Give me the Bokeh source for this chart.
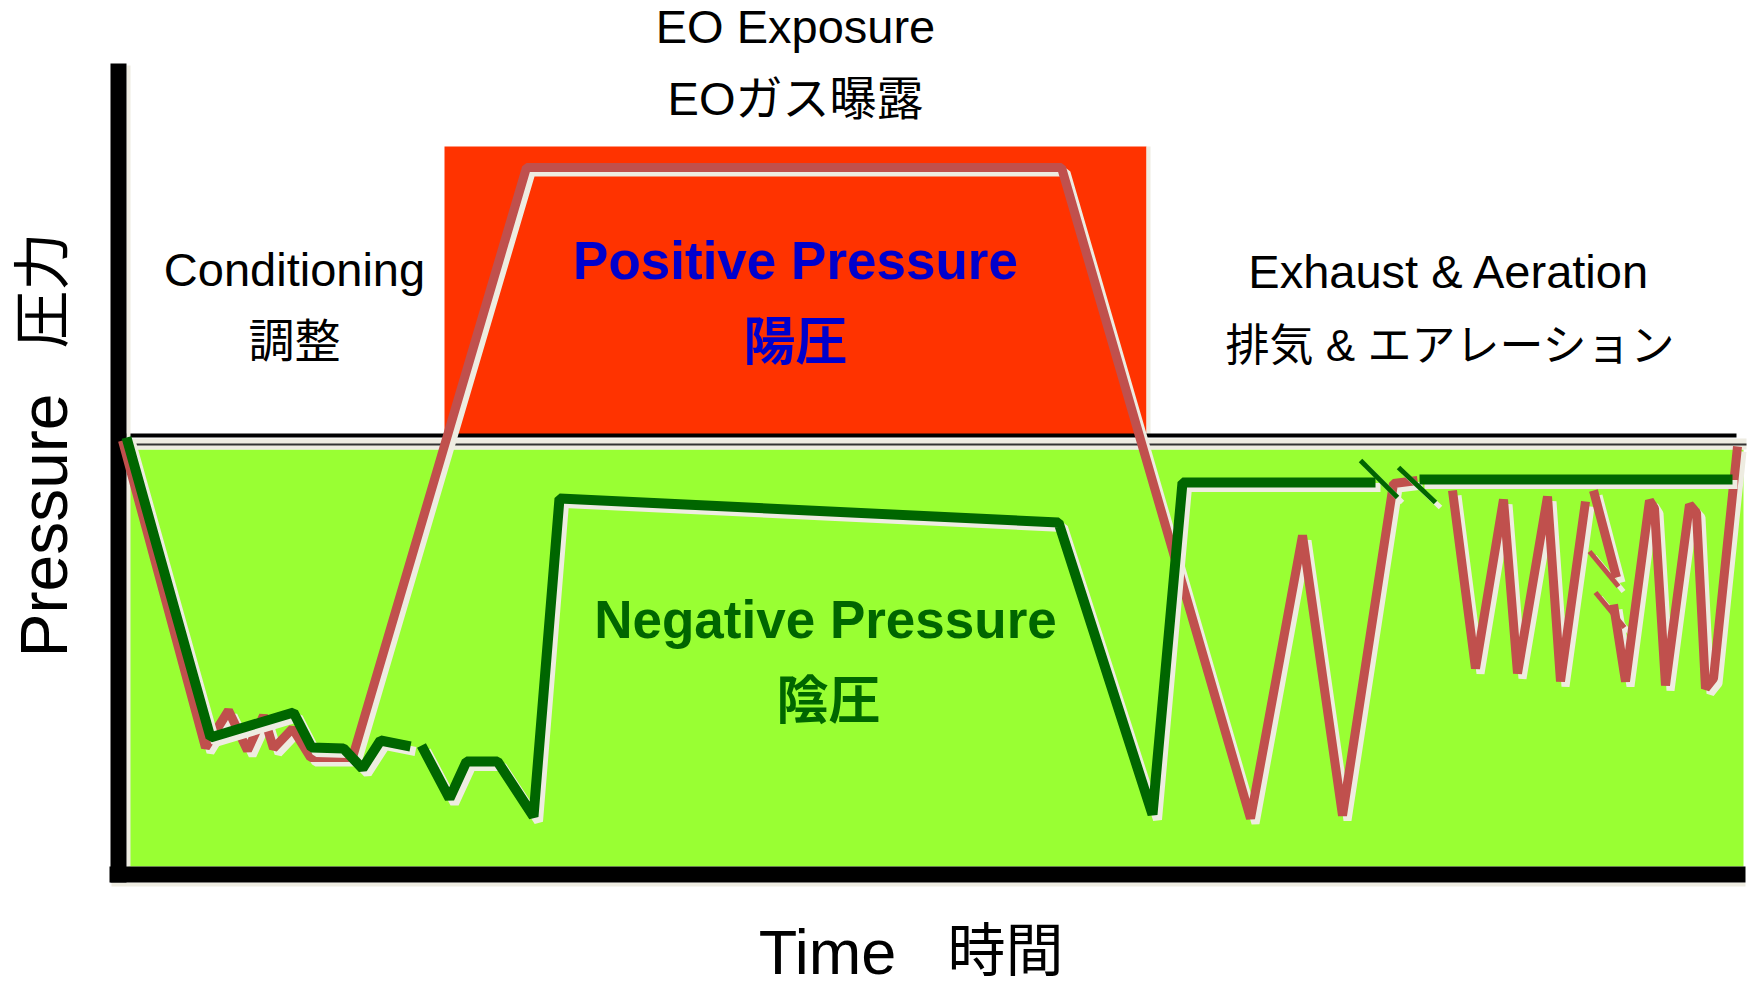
import math
from bokeh.plotting import figure
from bokeh.models import Range1d
from bokeh.core.properties import value
from bokeh.embed import file_html
from bokeh.resources import INLINE

nan = float("nan")

# ---- data (time: arbitrary units, pressure: arbitrary units, 0 = atmospheric) ----
# green curve
green_time = [126, 210, 293, 311, 343, 362, 380, 410, nan, 421, 449, 466, 497, 533, 559,
              1058, 1152, 1182, 1375, nan, 1419, 1732]
green_pressure = [-2, -302, -277, -312, -313, -333, -305, -311, nan, -310, -363, -326, -326, -381, -63,
                  -87, -379, -47, -47, nan, -44, -44]

# red curve
red_time = [122, 205, 228, 247, 263, 273, 292, 310, 352, 526, 1061, 1250, 1302, 1342, 1393, 1417, nan,
            1452, 1475, 1503, 1517, 1547, 1560, 1585, nan, 1593, 1616, nan,
            1613, 1625, 1649, 1654, 1665, 1689, 1696, 1705, 1713, 1737]
red_pressure = [-5, -312, -275, -315, -280, -313, -293, -322, -322, 268, 268, -383, -100, -380, -48, -45, nan,
                -55, -233, -64, -238, -61, -246, -66, nan, -55, -142, nan,
                -169, -246, -65, -73, -250, -69, -77, -253, -243, -11]

# break marks
green_break_t = [[1360, 1397], [1398, 1435]]
green_break_p = [[-25, -62], [-32, -67]]
red_break_t = [[1589, 1618], [1595, 1624]]
red_break_p = [[-116, -151], [-157, -192]]

# zones
zone_names = ["Positive Pressure", "Negative Pressure"]
zone_t0 = [444, 128]
zone_t1 = [1146, 1743]
zone_p_top = [289, -14]
zone_p_bottom = [0, -431]
zone_colors = ["#ff3300", "#99ff33"]

# phase labels
phase_text = ["EO Exposure", "EOガス曝露", "Conditioning", "調整", "Exhaust & Aeration", "排気 & エアレーション"]
phase_t = [795, 795, 294, 294, 1449, 1450]
phase_p = [409, 337, 166, 95, 164, 90]
phase_size = ["47px", "47px", "47px", "46px", "47px", "44px"]

zone_text = ["Positive Pressure", "陽圧", "Negative Pressure", "陰圧"]
zone_text_t = [795, 795, 825, 828]
zone_text_p = [175, 94, -184, -265]
zone_text_size = ["53px", "52px", "53px", "52px"]
zone_text_color = ["#0000cc", "#0000cc", "#006600", "#006600"]

axis_x_text = ["Time", "時間"]
axis_x_t = [827, 1005]
axis_x_p = [-516, -515]
axis_x_size = ["63px", "58px"]

axis_y_text = ["Pressure", "圧力"]
axis_y_t = [43, 42]
axis_y_p = [-90, 145]
axis_y_size = ["66px", "58px"]

FONT = value("Liberation Sans, Noto Sans CJK JP")
SHADOW = "#eeece1"
DX, DP = 5, -5

p = figure(width=1748, height=989, output_backend="svg", toolbar_location=None,
           x_range=Range1d(0, 1748), y_range=Range1d(-554, 435),
           x_axis_type=None, y_axis_type=None, min_border=0)
p.grid.visible = False
p.outline_line_color = None
p.background_fill_color = "white"
p.border_fill_color = "white"

# zones
p.quad(left=zone_t0, right=zone_t1, top=zone_p_top, bottom=zone_p_bottom,
       fill_color=zone_colors, line_color=None)
# shadow at right of positive zone
p.quad(left=[1146], right=[1150], top=[289], bottom=[0], fill_color=SHADOW, line_color=None)

# atmospheric line with shadows
p.quad(left=[128], right=[1746], top=[-3], bottom=[-14], fill_color=SHADOW, line_color=None)
p.segment(x0=[130], y0=[-9], x1=[1746], y1=[-9], line_color="#333333", line_width=2)
p.segment(x0=[126], y0=[0], x1=[1736], y1=[0], line_color="black", line_width=4)

# axes (thick bars with shadows)
p.quad(left=[126], right=[130], top=[370], bottom=[-431], fill_color=SHADOW, line_color=None)
p.quad(left=[111], right=[1745], top=[-447], bottom=[-451], fill_color=SHADOW, line_color=None)
p.quad(left=[110], right=[126], top=[372], bottom=[-447], fill_color="black", line_color=None)
p.quad(left=[109], right=[1745], top=[-431], bottom=[-447], fill_color="black", line_color=None)

def shifted(vals, d):
    return [v + d for v in vals]

# red curve
p.line(shifted(red_time, DX), shifted(red_pressure, DP), line_color=SHADOW, line_width=8,
       line_join="bevel")
p.multi_line([shifted(v, DX) for v in red_break_t], [shifted(v, DP) for v in red_break_p],
             line_color=SHADOW, line_width=5)
p.line(red_time, red_pressure, line_color="#c0504d", line_width=9, line_join="bevel")
p.multi_line(red_break_t, red_break_p, line_color="#c0504d", line_width=5)

# green curve
p.line(shifted(green_time, DX), shifted(green_pressure, DP), line_color=SHADOW, line_width=9,
       line_join="bevel")
p.multi_line([shifted(v, DX) for v in green_break_t], [shifted(v, DP) for v in green_break_p],
             line_color=SHADOW, line_width=5)
p.line(green_time, green_pressure, line_color="#006600", line_width=10, line_join="bevel")
p.multi_line(green_break_t, green_break_p, line_color="#006600", line_width=5)

# texts
p.text(x=phase_t, y=phase_p, text=phase_text, text_font=FONT, text_font_size=phase_size,
       text_color="black", text_align="center", text_baseline="alphabetic")
p.text(x=zone_text_t, y=zone_text_p, text=zone_text, text_font=FONT, text_font_size=zone_text_size,
       text_color=zone_text_color, text_font_style="bold", text_align="center",
       text_baseline="alphabetic")

# axis titles
p.text(x=axis_x_t, y=axis_x_p, text=axis_x_text, text_font=FONT,
       text_font_size=axis_x_size, text_color="black", text_align="center",
       text_baseline="alphabetic")
p.text(x=axis_y_t, y=axis_y_p, text=axis_y_text, text_font=FONT,
       text_font_size=axis_y_size, text_color="black", text_align="center",
       text_baseline="alphabetic", angle=math.pi / 2)

open("out.html", "w").write(file_html(p, INLINE))
